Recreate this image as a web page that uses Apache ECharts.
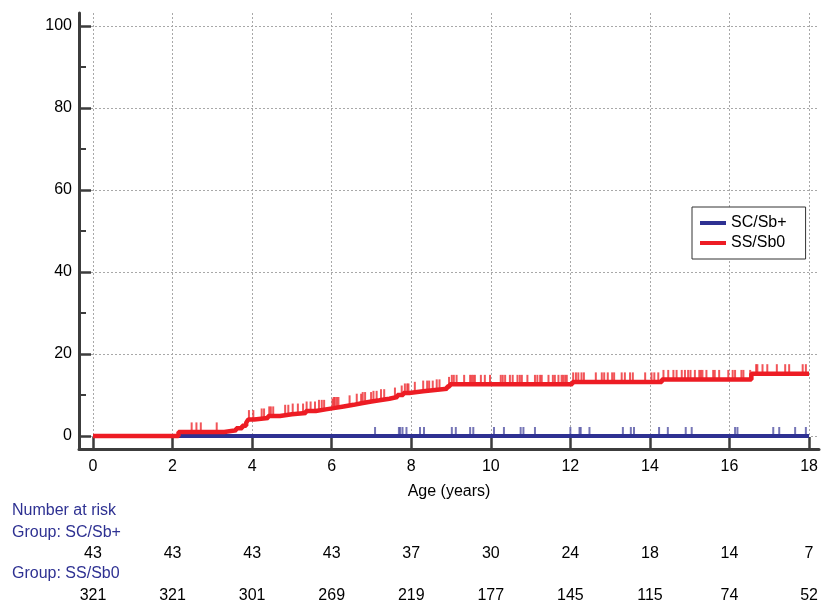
<!DOCTYPE html>
<html><head><meta charset="utf-8">
<script src="https://cdn.jsdelivr.net/npm/echarts@6/dist/echarts.min.js"></script>
<style>html,body{margin:0;padding:0;background:#fff}#c{width:822px;height:603px}</style>
</head><body><div id="c"></div>
<script>
const xTicks = [0,2,4,6,8,10,12,14,16,18];
const yTicks = [0,20,40,60,80,100];
const yMinorTicks = [10,30,50,70,90];
const groups = ['SC/Sb+','SS/Sb0'];
const scCurve = [[0,0],[18,0]];
const ssCurve = [[0,0],[2.15,1.0],[3.3,1.4],[3.6,1.9],[3.75,2.5],[3.85,3.2],[3.9,4.0],[4.05,4.4],[4.4,4.9],[4.7,5.3],[5.0,5.6],[5.35,6.1],[5.6,6.5],[5.85,6.8],[6.05,7.2],[6.3,7.6],[6.55,8.0],[6.75,8.4],[7.0,8.7],[7.2,9.1],[7.45,9.5],[7.65,10.0],[7.8,10.5],[7.95,10.9],[8.3,11.2],[8.6,11.5],[8.9,12.1],[8.97,12.6],[12.05,13.2],[14.3,13.8],[16.55,15.2],[18,15.2]];
const scCensor = [7.09,7.69,7.72,7.78,7.88,8.22,8.32,9.02,9.12,9.48,9.56,10.08,10.33,10.75,10.82,11.11,12.0,12.23,12.26,12.48,13.32,13.52,13.6,14.23,14.45,14.9,15.05,16.14,16.2,17.1,17.25,17.65,17.92];
const ssCensor = [2.48,2.6,2.71,3.11,3.92,4.03,4.24,4.3,4.43,4.47,4.53,4.83,4.91,5.02,5.15,5.28,5.37,5.47,5.58,5.68,5.75,5.81,6.02,6.05,6.08,6.13,6.17,6.45,6.63,6.74,6.78,6.84,6.99,7.05,7.13,7.24,7.32,7.59,7.76,7.84,7.9,7.93,8.09,8.3,8.4,8.45,8.54,8.64,8.71,8.95,9.02,9.07,9.14,9.33,9.48,9.52,9.56,9.6,9.75,9.85,9.98,10.25,10.3,10.36,10.48,10.55,10.67,10.73,10.78,10.92,11.11,11.17,11.24,11.28,11.45,11.56,11.61,11.7,11.78,11.82,11.87,11.91,12.07,12.14,12.2,12.28,12.34,12.64,12.79,12.85,12.94,13.05,13.1,13.29,13.37,13.5,13.57,13.88,14.04,14.11,14.21,14.34,14.46,14.59,14.67,14.8,14.88,14.96,15.02,15.13,15.24,15.28,15.32,15.42,15.59,15.63,15.74,15.97,16.08,16.14,16.3,16.35,16.52,16.67,16.7,16.83,16.95,17.19,17.4,17.5,17.84,17.92];
const riskSC = [43,43,43,43,37,30,24,18,14,7];
const riskSS = [321,321,301,269,219,177,145,115,74,52];

function stepValue(curve, t) {
  let v = curve[0][1];
  for (const p of curve) { if (p[0] <= t) v = p[1]; else break; }
  return v;
}
const FONT = '"Liberation Sans", Arial, sans-serif';
const AX = '#3c3c3c';
const BLUE = '#2e3192', RED = '#ed1c24';
const X_MIN = -0.352, X_MAX = 18.25, Y_MIN = -3.17, Y_MAX = 103.17;
const gridRect = {left: 79, right: 3, top: 13, bottom: 154, containLabel: false, outerBoundsMode: 'none'};

function riskAxis(values, offset) {
  return {
    type: 'value', gridIndex: 0, position: 'bottom', offset: offset,
    min: X_MIN, max: X_MAX,
    axisLine: {show: false, onZero: false}, axisTick: {show: false}, splitLine: {show: false},
    axisLabel: {
      customValues: xTicks, margin: 0, verticalAlign: 'middle', fontSize: 16, fontFamily: FONT, color: '#000',
      formatter: function (v) { const i = xTicks.indexOf(Math.round(v)); return i >= 0 ? String(values[i]) : ''; }
    }
  };
}

const chart = echarts.init(document.getElementById('c'), null, {renderer: 'canvas'});
chart.setOption({
  animation: false,
  backgroundColor: '#fff',
  grid: [Object.assign({}, gridRect), Object.assign({}, gridRect)],
  xAxis: [
    {
      type: 'value', gridIndex: 0, position: 'bottom', min: X_MIN, max: X_MAX,
      name: 'Age (years)', nameLocation: 'middle', nameGap: 35,
      nameTextStyle: {fontSize: 16, fontFamily: FONT, color: '#000'},
      axisLine: {show: true, onZero: false, lineStyle: {color: AX, width: 3}},
      axisTick: {show: true, inside: true, length: 12, customValues: xTicks, lineStyle: {color: AX, width: 2.5}},
      axisLabel: {customValues: xTicks, margin: 10, fontSize: 16, fontFamily: FONT, color: '#000'},
      splitLine: {show: true, lineStyle: {type: [2, 2], color: '#a8a8a8', width: 1}}
    },
    riskAxis(riskSC, 104.5),
    riskAxis(riskSS, 146.5),
    {type: 'value', gridIndex: 1, min: X_MIN, max: X_MAX, show: false}
  ],
  yAxis: [
    {
      type: 'value', gridIndex: 0, position: 'left', min: Y_MIN, max: Y_MAX,
      axisLine: {show: true, onZero: false, lineStyle: {color: AX, width: 3}},
      axisTick: {show: true, inside: true, length: 12, customValues: yTicks, lineStyle: {color: AX, width: 2.5}},
      axisLabel: {customValues: yTicks, margin: 7, fontSize: 16, fontFamily: FONT, color: '#000'},
      splitLine: {show: true, lineStyle: {type: [2, 2], color: '#a8a8a8', width: 1}}
    },
    {
      type: 'value', gridIndex: 1, position: 'left', min: Y_MIN, max: Y_MAX,
      axisLine: {show: false, onZero: false},
      axisTick: {show: true, inside: true, length: 7, customValues: yMinorTicks, lineStyle: {color: AX, width: 2}},
      axisLabel: {show: false}, splitLine: {show: false}
    }
  ],
  legend: {
    data: groups, orient: 'vertical', left: 692, top: 207,
    padding: [8, 19, 8, 8], itemGap: 4, itemWidth: 26, itemHeight: 4, icon: 'rect',
    borderColor: '#333', borderWidth: 1, backgroundColor: '#fff',
    textStyle: {fontSize: 16, lineHeight: 16, fontFamily: FONT, color: '#000'}
  },
  graphic: [
    {type: 'text', x: 12, y: 511, style: {text: 'Number at risk', fill: BLUE, fontSize: 16, fontFamily: FONT, verticalAlign: 'middle'}},
    {type: 'text', x: 12, y: 533, style: {text: 'Group: ' + groups[0], fill: BLUE, fontSize: 16, fontFamily: FONT, verticalAlign: 'middle'}},
    {type: 'text', x: 12, y: 574, style: {text: 'Group: ' + groups[1], fill: BLUE, fontSize: 16, fontFamily: FONT, verticalAlign: 'middle'}}
  ],
  series: [
    {
      name: groups[0], type: 'line', xAxisIndex: 0, yAxisIndex: 0, step: 'end', data: scCurve,
      showSymbol: false, symbol: 'none', lineStyle: {color: BLUE, width: 4}, itemStyle: {color: BLUE}, z: 3
    },
    {
      name: groups[0] + ' censored', type: 'scatter', xAxisIndex: 0, yAxisIndex: 0,
      data: scCensor.map(t => [t, stepValue(scCurve, t)]),
      symbol: 'rect', symbolSize: [2, 9], symbolOffset: [0, -4.5], itemStyle: {color: '#5252a4'}, silent: true, z: 2
    },
    {
      name: groups[1], type: 'line', xAxisIndex: 0, yAxisIndex: 0, step: 'end', data: ssCurve,
      showSymbol: false, symbol: 'none', lineStyle: {color: RED, width: 4.5}, itemStyle: {color: RED}, z: 5
    },
    {
      name: groups[1] + ' censored', type: 'scatter', xAxisIndex: 0, yAxisIndex: 0,
      data: ssCensor.map(t => [t, stepValue(ssCurve, t)]),
      symbol: 'rect', symbolSize: [2, 9.5], symbolOffset: [0, -4.75], itemStyle: {color: '#ee2a30'}, silent: true, z: 4
    }
  ]
});
</script></body></html>
